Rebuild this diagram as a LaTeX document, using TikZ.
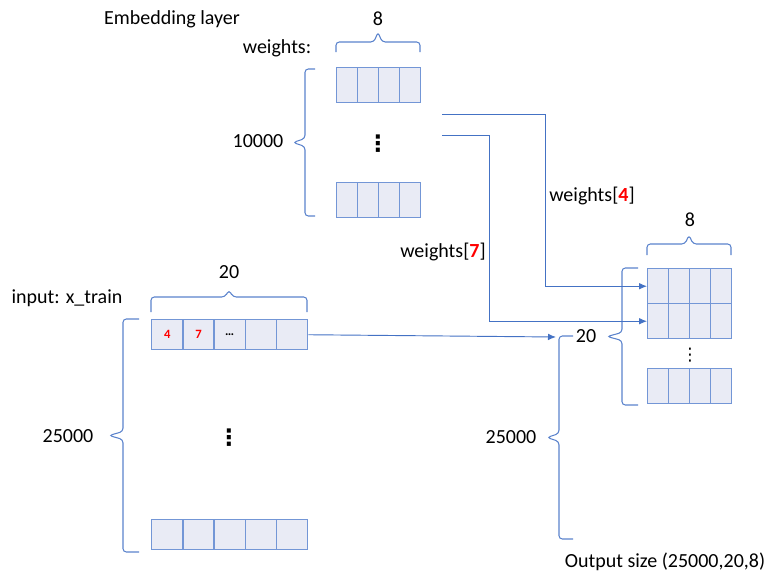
\documentclass[tikz,border=0pt]{standalone}
\usepackage{fontspec}
\setmainfont{Carlito}
\newfontfamily\dotfont{DejaVu Sans}
\usetikzlibrary{arrows.meta,positioning}
\definecolor{cellfill}{HTML}{E9EBF5}
\definecolor{cellline}{HTML}{7396D6}
\definecolor{wire}{HTML}{4472C4}
\definecolor{bracecol}{HTML}{5B83CC}
\definecolor{hot}{HTML}{FF0000}
\tikzset{
  >={Latex[length=6pt,width=5pt]},
  every node/.style={font=\fontsize{15}{18}\selectfont,text=black},
  cell/.style={draw=cellline,fill=cellfill,line width=1.1pt,minimum width=15.75pt,minimum height=26.25pt,inner sep=0pt,anchor=north west},
  incell/.style={cell,minimum width=23.4pt,minimum height=22.5pt,font=\fontsize{9.5}{10}\selectfont\bfseries},
  curly/.style={draw=bracecol,line width=0.8pt,rounded corners=2.5pt},
  wire/.style={->,draw=wire,line width=0.7pt},
  dimtext/.style={inner sep=1pt},
  vdotsnode/.style={inner sep=0pt,font=\dotfont\bfseries\fontsize{17}{17}\selectfont},
}
% side brace: x of the ends, top y, bottom y, depth of the stem, depth of the tip
\newcommand{\sidebrace}[5]{%
  \pgfmathsetmacro\bmid{(#2+#3)/2}
  \draw[curly] (#1,#2) -- ({#1-#4},#2) -- ({#1-#4},{\bmid-4}) -- ({#1-#5},\bmid)
    -- ({#1-#4},{\bmid+4}) -- ({#1-#4},#3) -- (#1,#3);
}
% top brace: left x, right x, y of the ends, depth of the stem, depth of the tip
\newcommand{\topbrace}[5]{%
  \pgfmathsetmacro\bmid{(#1+#2)/2}
  \draw[curly] (#1,#3) -- (#1,{#3-#4}) -- ({\bmid-4},{#3-#4}) -- (\bmid,{#3-#5})
    -- ({\bmid+4},{#3-#4}) -- (#2,{#3-#4}) -- (#2,#3);
}
\begin{document}
\begin{tikzpicture}[x=0.75pt,y=-0.75pt]
  \useasboundingbox (0,0) rectangle (782,582);

  % embedding weights
  \foreach \i in {1,...,4} {
    \node[cell] (wt\i) at ({336+21*(\i-1)},67) {};
    \node[cell] (wb\i) at ({336+21*(\i-1)},182) {};
  }
  \node[vdotsnode] (wdots) at (378,144) {⋮};
  \node[dimtext] (title) at (172,19) {Embedding layer};
  \node[dimtext] (wname) at (277,48) {weights:};
  \node[dimtext] (w8) at (378,19) {8};
  \node[dimtext] (w10k) at (258,141) {10000};
  \topbrace{336}{420}{52}{10}{20}
  \sidebrace{315}{69}{216}{10}{22}

  % input x_train
  \foreach \i/\t in {1/\textcolor{hot}{4},2/\textcolor{hot}{7},3/\ldots,4/{},5/{}} {
    \node[incell] (xa\i) at ({151+31.2*(\i-1)},319) {\t};
    \node[incell] (xb\i) at ({151+31.2*(\i-1)},519) {};
  }
  \node[vdotsnode] (xdots) at (229,438) {⋮};
  \node[dimtext] (xname) at (67,298) {input: x\_train};
  \node[dimtext] (x20) at (229,272) {20};
  \node[dimtext] (x25k) at (68,436) {25000};
  \topbrace{151}{307}{312}{15}{22}
  \sidebrace{139}{319}{552}{16}{30}

  % output
  \foreach \i in {1,...,4} {
    \node[cell] (oa\i) at ({647+21*(\i-1)},268) {};
    \node[cell] (ob\i) at ({647+21*(\i-1)},303) {};
    \node[cell] (oc\i) at ({647+21*(\i-1)},368) {};
  }
  \node[vdotsnode,font=\dotfont\fontsize{13}{13}\selectfont] (odots) at (690,355) {⋮};
  \node[dimtext] (o8) at (690,220) {8};
  \node[dimtext] (o20) at (586,336) {20};
  \node[dimtext] (o25k) at (511,437) {25000};
  \node[dimtext] (osize) at (665,562) {Output size (25000,20,8)};
  \topbrace{647}{731}{255}{11}{20}
  \sidebrace{638}{268}{405}{16}{31}
  \sidebrace{573}{336}{539}{14}{26}

  % lookups
  \coordinate (w4src) at (442,114);
  \coordinate (w7src) at (442,135);
  \coordinate (outin) at (556,337);
  \draw[wire] (w4src) -- ++(103,0) |- (oa1.west);
  \draw[wire] (w7src) -- ++(47,0) |- (ob1.west);
  \draw[wire] (xa5.east) -- (outin);
  \node[dimtext] (l4) at (592,196) {weights[\textcolor{hot}{\textbf{4}}]};
  \node[dimtext] (l7) at (443,252) {weights[\textcolor{hot}{\textbf{7}}]};
\end{tikzpicture}
\end{document}
